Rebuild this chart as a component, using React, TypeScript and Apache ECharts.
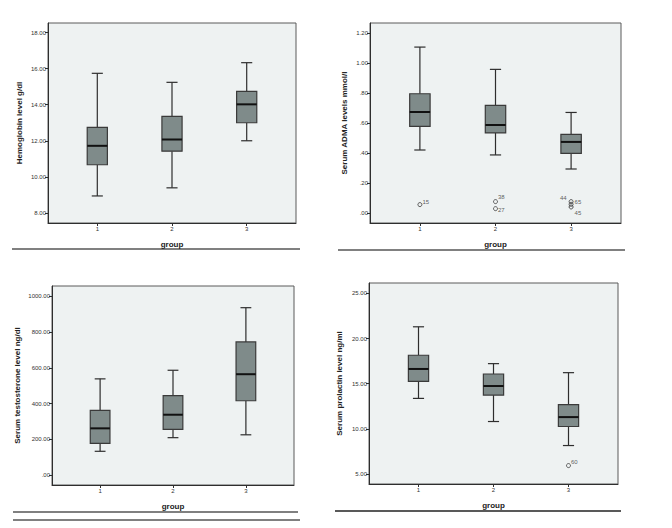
import React, { useEffect, useRef } from "react";
import * as echarts from "echarts";

// ---- data: [group, min, Q1, median, Q3, max] ----
const groups = ["1", "2", "3"];
const hemoglobinBoxes = [
  [1, 8.94, 10.67, 11.72, 12.74, 15.74],
  [2, 9.39, 11.42, 12.07, 13.35, 15.24],
  [3, 12.0, 13.0, 14.02, 14.74, 16.33],
];
const admaBoxes = [
  [1, 0.421, 0.579, 0.675, 0.797, 1.109],
  [2, 0.388, 0.535, 0.588, 0.719, 0.96],
  [3, 0.294, 0.398, 0.475, 0.525, 0.672],
];
const admaOutliers = [
  [1, 0.056, "15"],
  [2, 0.076, "38"],
  [2, 0.029, "27"],
  [3, 0.076, "44"],
  [3, 0.058, "65"],
  [3, 0.04, "45"],
];
const testosteroneBoxes = [
  [1, 134, 178, 262, 362, 538],
  [2, 210, 256, 338, 445, 586],
  [3, 226, 416, 564, 744, 935],
];
const prolactinBoxes = [
  [1, 13.37, 15.26, 16.63, 18.15, 21.3],
  [2, 10.81, 13.74, 14.74, 16.07, 17.22],
  [3, 8.15, 10.26, 11.3, 12.67, 16.22],
];
const prolactinOutliers = [[3, 5.93, "60"]];

const hemoglobinTicks = [8, 10, 12, 14, 16, 18];
const admaTicks = [0, 0.2, 0.4, 0.6, 0.8, 1.0, 1.2];
const testosteroneTicks = [0, 200, 400, 600, 800, 1000];
const prolactinTicks = [5, 10, 15, 20, 25];

const yTitles = [
  "Hemoglobin level g/dl",
  "Serum ADMA levels mmol/l",
  "Serum testosterone level ng/dl",
  "Serum prolactin level ng/ml",
];
const xTitle = "group";

// label placement for outlier ids (style only)
const outlierLabelPlace: Record<string, { position: string; offset: number[] }> = {
  "15": { position: "right", offset: [-2, -3] },
  "38": { position: "right", offset: [-2, -5] },
  "27": { position: "right", offset: [-2, 1] },
  "44": { position: "left", offset: [0, -4] },
  "65": { position: "right", offset: [-1, -2] },
  "45": { position: "right", offset: [-1, 6] },
  "60": { position: "right", offset: [-2, -4] },
};

const FONT = "Liberation Sans, Arial, sans-serif";
const BOX_FILL = "#7f8b8a";
const LINE = "#2e2e2e";

function fmt(v: number) {
  let s = Number(v).toFixed(2);
  if (s.startsWith("0.")) s = s.slice(1);
  return s;
}

export default function App() {
  const ref = useRef<HTMLDivElement>(null);

  useEffect(() => {
    if (!ref.current) return;
    const chart = echarts.init(ref.current, null, { renderer: "svg" });

    const panels = [
      { grid: { left: 48, top: 23, width: 248, height: 200 }, yMin: 7.44, yMax: 18.53, ticks: hemoglobinTicks, boxes: hemoglobinBoxes, outliers: [] as any[], title: yTitles[0], nameGap: 25 },
      { grid: { left: 370, top: 23, width: 251, height: 200 }, yMin: -0.067, yMax: 1.27, ticks: admaTicks, boxes: admaBoxes, outliers: admaOutliers, title: yTitles[1], nameGap: 22 },
      { grid: { left: 52, top: 286, width: 242, height: 199 }, yMin: -54, yMax: 1056, ticks: testosteroneTicks, boxes: testosteroneBoxes, outliers: [] as any[], title: yTitles[2], nameGap: 31 },
      { grid: { left: 369, top: 283, width: 249, height: 201 }, yMin: 3.89, yMax: 26.15, ticks: prolactinTicks, boxes: prolactinBoxes, outliers: prolactinOutliers, title: yTitles[3], nameGap: 26 },
    ];

    const grid: any[] = [];
    const xAxis: any[] = [];
    const yAxis: any[] = [];
    const series: any[] = [];

    panels.forEach((p, i) => {
      grid.push({
        ...p.grid,
        show: true,
        backgroundColor: "#eef2f2",
        borderColor: "#5a5a5a",
        borderWidth: 1,
      });
      xAxis.push({
        gridIndex: i,
        type: "value",
        min: 0.34,
        max: 3.66,
        name: xTitle,
        nameLocation: "middle",
        nameGap: 17,
        nameTextStyle: { fontFamily: FONT, fontWeight: "bold", fontSize: 8, color: "#222" },
        axisLine: { show: true, onZero: false, lineStyle: { color: LINE, width: 1 } },
        axisTick: { show: true, length: 3, customValues: [1, 2, 3], lineStyle: { color: LINE } },
        axisLabel: {
          customValues: [1, 2, 3],
          formatter: (v: number) => groups[Math.round(v) - 1] ?? "",
          fontFamily: FONT,
          fontSize: 6,
          color: "#333",
          margin: 3,
        },
        splitLine: { show: false },
      });
      yAxis.push({
        gridIndex: i,
        type: "value",
        min: p.yMin,
        max: p.yMax,
        name: p.title,
        nameLocation: "middle",
        nameRotate: 90,
        nameGap: p.nameGap,
        nameTextStyle: { fontFamily: FONT, fontWeight: "bold", fontSize: 8, color: "#222" },
        axisLine: { show: true, onZero: false, lineStyle: { color: LINE, width: 1 } },
        axisTick: { show: true, length: 3, customValues: p.ticks, lineStyle: { color: LINE } },
        axisLabel: {
          customValues: p.ticks,
          formatter: (v: number) => fmt(v),
          fontFamily: FONT,
          fontSize: 6,
          color: "#333",
          margin: 2,
        },
        splitLine: { show: false },
      });
      series.push({
        type: "custom",
        xAxisIndex: i,
        yAxisIndex: i,
        data: p.boxes,
        encode: { x: 0, y: [1, 2, 3, 4, 5] },
        renderItem: (_params: any, api: any) => {
          const x = api.value(0);
          const lo = api.coord([x, api.value(1)]);
          const q1 = api.coord([x, api.value(2)]);
          const med = api.coord([x, api.value(3)]);
          const q3 = api.coord([x, api.value(4)]);
          const hi = api.coord([x, api.value(5)]);
          const w = api.size([0.27, 0])[0];
          const cw = w * 0.55;
          const cx = med[0];
          const lineStyle = { stroke: LINE, lineWidth: 1.2 };
          return {
            type: "group",
            children: [
              { type: "line", shape: { x1: cx, y1: hi[1], x2: cx, y2: q3[1] }, style: lineStyle },
              { type: "line", shape: { x1: cx, y1: q1[1], x2: cx, y2: lo[1] }, style: lineStyle },
              { type: "line", shape: { x1: cx - cw / 2, y1: hi[1], x2: cx + cw / 2, y2: hi[1] }, style: lineStyle },
              { type: "line", shape: { x1: cx - cw / 2, y1: lo[1], x2: cx + cw / 2, y2: lo[1] }, style: lineStyle },
              {
                type: "rect",
                shape: { x: cx - w / 2, y: q3[1], width: w, height: q1[1] - q3[1] },
                style: { fill: BOX_FILL, stroke: "#3a3a3a", lineWidth: 1.2 },
              },
              { type: "line", shape: { x1: cx - w / 2, y1: med[1], x2: cx + w / 2, y2: med[1] }, style: { stroke: "#111", lineWidth: 2 } },
            ],
          };
        },
      });
      if (p.outliers.length) {
        series.push({
          type: "scatter",
          xAxisIndex: i,
          yAxisIndex: i,
          symbol: "circle",
          symbolSize: 4,
          itemStyle: { color: "transparent", borderColor: "#333", borderWidth: 1 },
          data: p.outliers.map((o: any[]) => {
            const place = outlierLabelPlace[o[2]] || { position: "right", offset: [0, 0] };
            return {
              value: [o[0], o[1]],
              name: o[2],
              label: {
                show: true,
                formatter: o[2],
                position: place.position,
                offset: place.offset,
                distance: 2,
                fontFamily: FONT,
                fontSize: 6,
                color: "#333",
              },
            };
          }),
        });
      }
    });

    const graphic = [
      { type: "line", shape: { x1: 12, y1: 249, x2: 300, y2: 249 }, style: { stroke: "#808080", lineWidth: 2 } },
      { type: "line", shape: { x1: 338, y1: 250, x2: 625, y2: 250 }, style: { stroke: "#808080", lineWidth: 2 } },
      { type: "line", shape: { x1: 13, y1: 512, x2: 298, y2: 512 }, style: { stroke: "#808080", lineWidth: 2 } },
      { type: "line", shape: { x1: 13, y1: 520, x2: 300, y2: 520 }, style: { stroke: "#808080", lineWidth: 2 } },
      { type: "line", shape: { x1: 335, y1: 511, x2: 621, y2: 511 }, style: { stroke: "#222", lineWidth: 1.5 } },
    ];

    chart.setOption({
      animation: false,
      backgroundColor: "#ffffff",
      grid,
      xAxis,
      yAxis,
      series,
      graphic,
    });

    return () => chart.dispose();
  }, []);

  return (
    <div
      ref={ref}
      style={{ position: "fixed", left: 0, top: 0, width: 672, height: 528, background: "#fff" }}
    />
  );
}
